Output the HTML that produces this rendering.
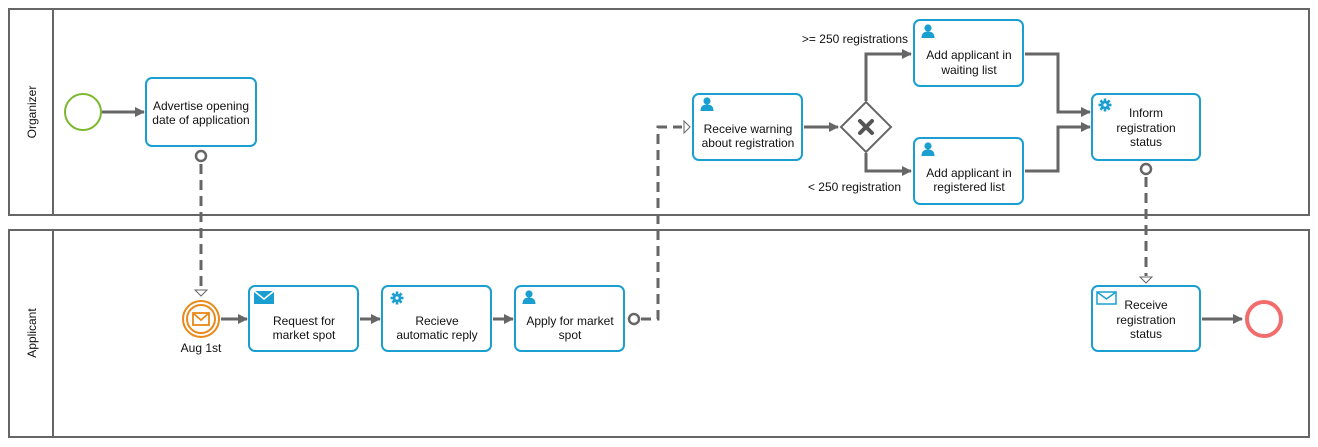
<!DOCTYPE html>
<html><head><meta charset="utf-8"><style>
html,body{margin:0;padding:0;background:#fff;width:1318px;height:447px;overflow:hidden}
svg{display:block}
text{font-family:"Liberation Sans",sans-serif;font-size:12px;fill:#111}
</style></head><body>
<svg width="1318" height="447" viewBox="0 0 1318 447" xmlns="http://www.w3.org/2000/svg">
<defs>
<marker id="a" markerWidth="10" markerHeight="10" refX="9" refY="5" orient="auto" markerUnits="userSpaceOnUse">
<path d="M0,0 L10,5 L0,10 z" fill="#666"/></marker>
<g id="user"><circle cx="0" cy="-4" r="3.6" fill="#1a9fd0"/><path d="M-6.5,6 Q-6.5,-0.5 0,-0.5 Q6.5,-0.5 6.5,6 z" fill="#1a9fd0"/></g>
<g id="gear"><circle r="4.2" fill="#1a9fd0"/><g stroke="#1a9fd0" stroke-width="2.6"><line x1="0" y1="-6.5" x2="0" y2="6.5"/><line x1="-6.5" y1="0" x2="6.5" y2="0"/><line x1="-4.6" y1="-4.6" x2="4.6" y2="4.6"/><line x1="-4.6" y1="4.6" x2="4.6" y2="-4.6"/></g><circle r="1.6" fill="#fff"/></g>
</defs>
<g fill="none" stroke="#666" stroke-width="2">
<rect x="9" y="9" width="1300" height="206"/><line x1="53" y1="9" x2="53" y2="215"/>
<rect x="9" y="230" width="1300" height="207"/><line x1="53" y1="230" x2="53" y2="437"/>
</g>
<text transform="translate(36,112) rotate(-90)" text-anchor="middle">Organizer</text>
<text transform="translate(36,333) rotate(-90)" text-anchor="middle">Applicant</text>

<g fill="none" stroke="#666" stroke-width="3" marker-end="url(#a)">
<line x1="102" y1="112" x2="144" y2="112"/>
<line x1="221" y1="319" x2="247" y2="319"/>
<line x1="360" y1="319" x2="380" y2="319"/>
<line x1="493" y1="319" x2="513" y2="319"/>
<line x1="804" y1="127" x2="838" y2="127"/>
<polyline points="866,101 866,54 911,54"/>
<polyline points="866,153 866,171 911,171"/>
<polyline points="1025,54 1058,54 1058,112 1090,112"/>
<polyline points="1025,171 1058,171 1058,127 1090,127"/>
<line x1="1202" y1="319" x2="1242" y2="319"/>
</g>
<g fill="none" stroke="#666" stroke-width="3" stroke-dasharray="10,6">
<line x1="201" y1="164" x2="201" y2="288"/>
<polyline points="641,319 658,319 658,127 682,127"/>
<line x1="1146" y1="177" x2="1146" y2="276"/>
</g>
<g fill="#fff" stroke="#666" stroke-width="1">
<path d="M195,290 L207,290 L201,296 z"/>
<path d="M684,121 L690,127 L684,133 z"/>
<path d="M1140,277 L1152,277 L1146,283 z"/>
</g>
<g fill="#fff" stroke="#666" stroke-width="2.5">
<circle cx="201" cy="156" r="5"/><circle cx="634" cy="319" r="5"/><circle cx="1146" cy="169" r="5"/>
</g>

<circle cx="83" cy="112" r="18" fill="#fff" stroke="#7cb82f" stroke-width="2"/>
<circle cx="201" cy="319" r="18" fill="#fff" stroke="#e8891a" stroke-width="2"/>
<circle cx="201" cy="319" r="14" fill="#fff" stroke="#e8891a" stroke-width="2"/>
<rect x="193" y="313" width="16" height="12" fill="none" stroke="#e8891a" stroke-width="1.8"/>
<polyline points="193,313 201,320 209,313" fill="none" stroke="#e8891a" stroke-width="1.8"/>
<text x="201" y="352" text-anchor="middle">Aug 1st</text>
<circle cx="1264" cy="319" r="17" fill="#fff" stroke="#f26c6c" stroke-width="4"/>

<path d="M866,102 L891,127 L866,152 L841,127 z" fill="#fff" stroke="#666" stroke-width="2"/>
<g stroke="#555" stroke-width="4" stroke-linecap="round"><line x1="860" y1="121" x2="872" y2="133"/><line x1="872" y1="121" x2="860" y2="133"/></g>
<text x="908" y="43" text-anchor="end">&gt;= 250 registrations</text>
<text x="901" y="191" text-anchor="end">&lt; 250 registration</text>

<g fill="#fff" stroke="#1a9fd0" stroke-width="2">
<rect x="146" y="78" width="110" height="68" rx="6"/>
<rect x="249" y="286" width="109" height="65" rx="6"/>
<rect x="382" y="286" width="109" height="65" rx="6"/>
<rect x="515" y="286" width="109" height="65" rx="6"/>
<rect x="693" y="94" width="109" height="66" rx="6"/>
<rect x="914" y="20" width="109" height="66" rx="6"/>
<rect x="914" y="138" width="109" height="66" rx="6"/>
<rect x="1092" y="94" width="108" height="66" rx="6"/>
<rect x="1092" y="286" width="108" height="65" rx="6"/>
</g>
<rect x="254" y="291" width="20" height="13" fill="#1a9fd0"/>
<polyline points="254,291 264,299 274,291" fill="none" stroke="#fff" stroke-width="1.5"/>
<use href="#gear" x="397" y="298"/>
<use href="#user" x="529" y="298"/>
<use href="#user" x="707" y="105"/>
<use href="#user" x="928" y="32"/>
<use href="#user" x="928" y="150"/>
<use href="#gear" x="1105" y="105"/>
<rect x="1097" y="292" width="19" height="12" fill="#fff" stroke="#1a9fd0" stroke-width="1.5"/>
<polyline points="1097,292 1106.5,299 1116,292" fill="none" stroke="#1a9fd0" stroke-width="1.5"/>

<g text-anchor="middle">
<text x="201" y="110">Advertise opening</text><text x="201" y="124">date of application</text>
<text x="304" y="325">Request for</text><text x="304" y="339">market spot</text>
<text x="437" y="325">Recieve</text><text x="437" y="339">automatic reply</text>
<text x="570" y="325">Apply for market</text><text x="570" y="339">spot</text>
<text x="748" y="133">Receive warning</text><text x="748" y="147">about registration</text>
<text x="969" y="59">Add applicant in</text><text x="969" y="74">waiting list</text>
<text x="969" y="177">Add applicant in</text><text x="969" y="191">registered list</text>
<text x="1146" y="117">Inform</text><text x="1146" y="132">registration</text><text x="1146" y="146">status</text>
<text x="1146" y="309">Receive</text><text x="1146" y="324">registration</text><text x="1146" y="338">status</text>
</g>
</svg>
</body></html>
